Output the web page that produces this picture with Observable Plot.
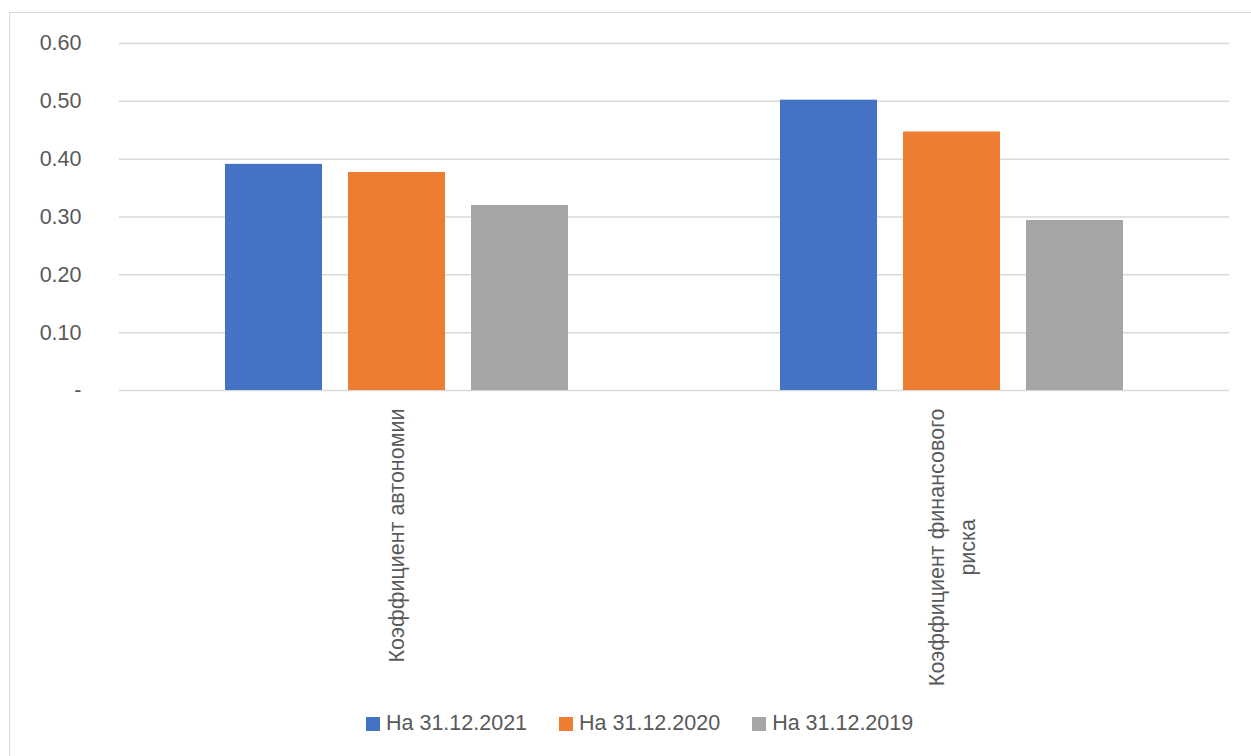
<!DOCTYPE html>
<html>
<head>
<meta charset="utf-8">
<script src="https://cdn.jsdelivr.net/npm/d3@7"></script>
<script src="https://cdn.jsdelivr.net/npm/@observablehq/plot@0.6"></script>
<style>
  body { margin: 0; background: #fff; font-family: "Liberation Sans", Arial, sans-serif; }
  #chart { position: relative; width: 1251px; height: 756px; overflow: hidden; }
  #frame { position: absolute; left: 9px; top: 12px; width: 1400px; height: 900px;
           border: 1.5px solid #d9d9d9; pointer-events: none; }
  #legend { position: absolute; left: 366px; top: 711px; display: flex; align-items: center;
            font-size: 21.5px; color: #595959; white-space: nowrap; }
  #legend .item { display: flex; align-items: center; margin-right: 32px; }
  #legend .sw { width: 14px; height: 14px; margin-right: 6px; }
</style>
</head>
<body>
<div id="chart"></div>
<script>
// Ratios per indicator, one array per reporting date
const categories = ["Коэффициент автономии", "Коэффициент финансового риска"];
const categoryLabels = ["Коэффициент автономии", "Коэффициент финансового\nриска"];
const series = ["На 31.12.2021", "На 31.12.2020", "На 31.12.2019"];
const seriesColors = ["#4472C4", "#ED7D31", "#A5A5A5"];
const values2021 = [0.391, 0.502];
const values2020 = [0.377, 0.447];
const values2019 = [0.320, 0.294];
const yTicks = [0, 0.1, 0.2, 0.3, 0.4, 0.5, 0.6];

const seriesValues = [values2021, values2020, values2019];
const rows = categories.flatMap((c, i) =>
  series.map((s, j) => ({category: c, series: s, value: seriesValues[j][i]}))
);

const textColor = "#595959";
const font = "\"Liberation Sans\", Arial, sans-serif";

const chart = Plot.plot({
  width: 1251,
  height: 700,
  marginLeft: 119,
  marginRight: 22,
  marginTop: 43,
  marginBottom: 310,
  style: {background: "transparent", fontFamily: font, fontSize: "21px", color: textColor, overflow: "visible"},
  fx: {domain: categories, padding: 0, axis: null},
  x: {domain: series, paddingInner: 0.214, paddingOuter: 0.863, axis: null},
  y: {domain: [0, 0.6], axis: null, label: null},
  color: {domain: series, range: seriesColors},
  marks: [
    Plot.gridY(yTicks, {stroke: "#d9d9d9", strokeOpacity: 1, strokeWidth: 1.5}),
    Plot.axisY(yTicks, {
      tickSize: 0, tickPadding: 38, label: null,
      tickFormat: d => d === 0 ? "-" : d.toFixed(2),
      fill: textColor, fontSize: 21.5
    }),
    Plot.barY(rows, {fx: "category", x: "series", y: "value", fill: "series"}),
    Plot.text(categories, {
      fx: d => d,
      text: categoryLabels,
      frameAnchor: "bottom",
      rotate: -90,
      textAnchor: "end",
      lineAnchor: "middle",
      lineHeight: 1.45,
      dx: -2.5,
      dy: 18,
      fill: textColor,
      fontSize: 21.5,
      className: "cat-label"
    })
  ]
});

const root = document.getElementById("chart");
root.append(chart);

// Center continuation lines of wrapped category labels under the first line
chart.querySelectorAll(".cat-label text").forEach(t => {
  const spans = t.querySelectorAll("tspan");
  if (spans.length > 1) {
    const w = spans[0].getComputedTextLength();
    for (let k = 1; k < spans.length; ++k) {
      spans[k].setAttribute("x", -w / 2);
      spans[k].setAttribute("text-anchor", "middle");
    }
  }
});

// Chart area outline
const frame = document.createElement("div");
frame.id = "frame";
root.append(frame);

// Legend
const legend = document.createElement("div");
legend.id = "legend";
series.forEach((s, i) => {
  const item = document.createElement("div");
  item.className = "item";
  const sw = document.createElement("span");
  sw.className = "sw";
  sw.style.background = seriesColors[i];
  const label = document.createElement("span");
  label.textContent = s;
  item.append(sw, label);
  legend.append(item);
});
root.append(legend);
</script>
</body>
</html>
